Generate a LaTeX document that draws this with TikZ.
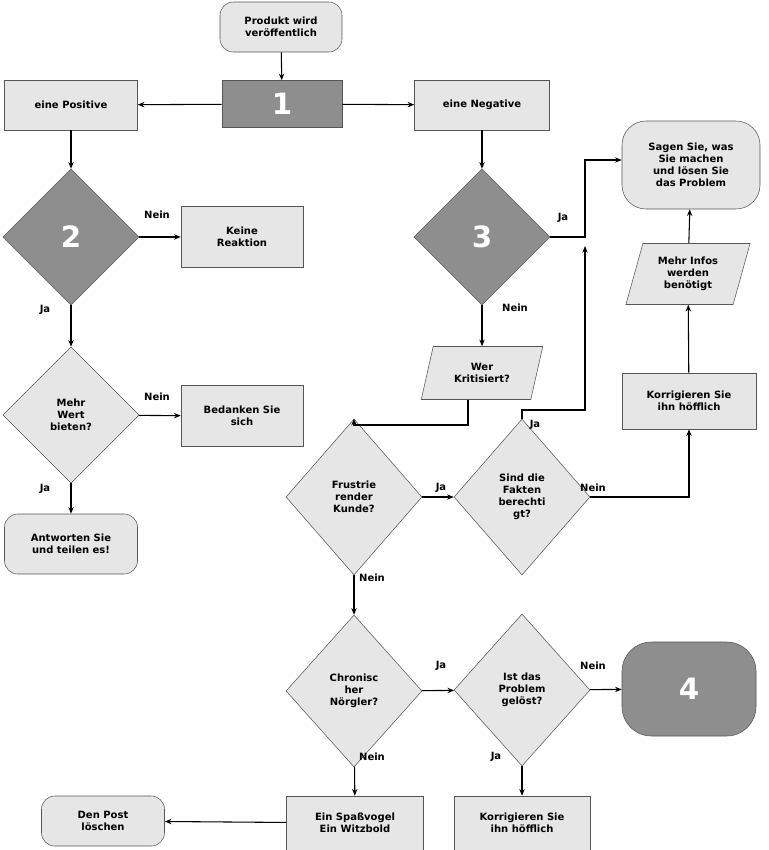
\documentclass[tikz,border=0pt]{standalone}
\usepackage{fontspec}
\setmainfont{DejaVu Sans}
\usetikzlibrary{shapes.geometric,arrows.meta}
\definecolor{lg}{HTML}{E6E6E6}
\definecolor{dg}{HTML}{8E8E8E}
\definecolor{bd}{HTML}{555555}
\begin{document}
\begin{tikzpicture}[x=0.75pt,y=-0.75pt,
 every node/.style={font=\bfseries\fontsize{7.5}{9}\selectfont,align=center,inner sep=1pt},
 box/.style={draw=bd,fill=lg,minimum width=#1},
 rbox/.style={draw=bd,fill=lg,rounded corners=10pt},
 dia/.style={draw=bd,fill=lg,diamond,minimum width=136*0.75pt,minimum height=#1*0.75pt,inner sep=0pt},
 para/.style={draw=bd,fill=lg,trapezium,trapezium left angle=72,trapezium right angle=108,trapezium stretches=true},
 big/.style={text=white,font=\bfseries\fontsize{22}{24}\selectfont},
 ar/.style={-{Stealth[length=5pt,width=4pt]},line width=0.8pt},
 lb/.style={font=\bfseries\fontsize{7.5}{9}\selectfont}]
\useasboundingbox (0,0) rectangle (768,850);
\node[rbox,minimum width=122*0.75pt,minimum height=50*0.75pt] (s) at (281,27) {Produkt wird\\veröffentlich};
\node[draw=bd,fill=dg,minimum width=120*0.75pt,minimum height=47*0.75pt,big] (n1) at (282,104) {1};
\node[box=133*0.75pt,minimum height=50*0.75pt] (pos) at (71,105) {eine Positive};
\node[box=135*0.75pt,minimum height=50*0.75pt] (neg) at (482,105) {eine Negative};
\node[dia=136,fill=dg,big] (d2) at (71,237) {2};
\node[box=122*0.75pt,minimum height=61*0.75pt] (kr) at (242,237) {Keine\\Reaktion};
\node[dia=136] (mw) at (71,415) {Mehr\\Wert\\bieten?};
\node[box=122*0.75pt,minimum height=61*0.75pt] (bs) at (242,416) {Bedanken Sie\\sich};
\node[rbox,minimum width=133*0.75pt,minimum height=60*0.75pt] (an) at (71,544) {Antworten Sie\\und teilen es!};
\node[dia=136,fill=dg,big] (d3) at (482,237) {3};
\node[rbox,rounded corners=18pt,minimum width=138*0.75pt,minimum height=88*0.75pt] (sa) at (691,165) {Sagen Sie, was\\Sie machen\\und lösen Sie\\das Problem};
\node[para,minimum width=125*0.75pt,minimum height=61*0.75pt] (mi) at (688,274) {Mehr Infos\\werden\\benötigt};
\node[box=134*0.75pt,minimum height=56*0.75pt] (k1) at (689,401) {Korrigieren Sie\\ihn höfflich};
\node[para,minimum width=122*0.75pt,minimum height=53*0.75pt] (wk) at (482,373) {Wer\\Kritisiert?};
\node[dia=156] (fk) at (354,497) {Frustrie\\render\\Kunde?};
\node[dia=156] (sf) at (522,497) {Sind die\\Fakten\\berechti\\gt?};
\node[dia=152] (cn) at (354,691) {Chronisc\\her\\Nörgler?};
\node[dia=152] (ip) at (522,690) {Ist das\\Problem\\gelöst?};
\node[draw=bd,fill=dg,rounded corners=22pt,minimum width=134*0.75pt,minimum height=94*0.75pt,big] (n4) at (689,689) {4};
\node[box=137*0.75pt,minimum height=54*0.75pt] (sv) at (355,823) {Ein Spaßvogel\\Ein Witzbold};
\node[box=136*0.75pt,minimum height=54*0.75pt] (k2) at (522,823) {Korrigieren Sie\\ihn höfflich};
\node[rbox,minimum width=123*0.75pt,minimum height=50*0.75pt] (dp) at (103,821) {Den Post\\löschen};
\draw[ar] (s) -- (n1);
\draw[ar] (n1) -- (pos);
\draw[ar] (n1) -- (neg);
\draw[ar] (pos) -- (d2);
\draw[ar] (d2) -- (kr);
\draw[ar] (d2) -- (mw);
\draw[ar] (mw) -- (bs);
\draw[ar] (mw) -- (an);
\draw[ar] (neg) -- (d3);
\coordinate (j1) at (585,237);
\draw[ar] (d3.east) -- (j1) |- (sa.west |- 0,160);
\draw[ar] (d3) -- (wk);
\coordinate (w1) at (468,425);
\draw[ar] (wk.south -| w1) -- (w1) -| (fk.north);
\draw[ar] (fk) -- (sf);
\coordinate (w2) at (522,410);
\draw[ar] (sf.north) -- (w2) -| (585,246);
\draw[ar] (sf.east) -| (k1.south);
\draw[ar] (k1) -- (mi);
\draw[ar] (mi) -- (sa);
\draw[ar] (fk) -- (cn);
\draw[ar] (cn) -- (ip);
\draw[ar] (ip) -- (n4);
\draw[ar] (ip) -- (k2);
\draw[ar] (cn) -- (sv);
\draw[ar] (sv) -- (dp);
\node[lb] (l1) at (157,215) {Nein};
\node[lb] (l2) at (45,310) {Ja};
\node[lb] (l3) at (157,397) {Nein};
\node[lb] (l4) at (45,489) {Ja};
\node[lb] (l5) at (563,218) {Ja};
\node[lb] (l6) at (515,308) {Nein};
\node[lb] (l7) at (441,488) {Ja};
\node[lb] (l8) at (535,425) {Ja};
\node[lb] (l9) at (593,488) {Nein};
\node[lb] (l10) at (372,578) {Nein};
\node[lb] (l11) at (441,666) {Ja};
\node[lb] (l12) at (593,666) {Nein};
\node[lb] (l13) at (496,757) {Ja};
\node[lb] (l14) at (372,757) {Nein};
\end{tikzpicture}
\end{document}
